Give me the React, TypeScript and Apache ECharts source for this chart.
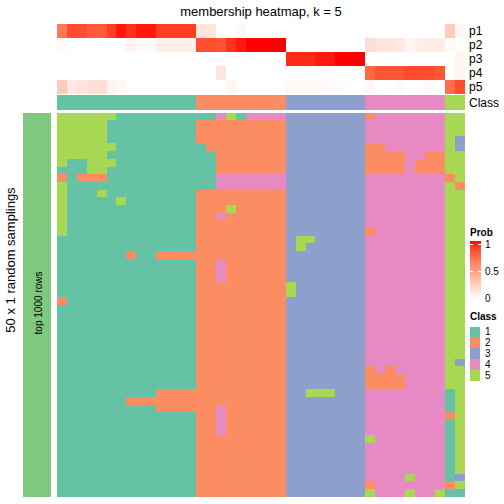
import React, { useEffect, useRef } from "react";
import * as echarts from "echarts";

const TITLE = "membership heatmap, k = 5";
const ROW_TITLE = "50 x 1 random samplings";
const LEFT_ANNO_LABEL = "top 1000 rows";
const PROB_ROWS = ["p1", "p2", "p3", "p4", "p5"];
const CLASS_ROW = ["Class"];

const P1 = [0.68, 0.85, 0.84, 0.8, 0.8, 0.9, 0.96, 0.92, 0.96, 0.96, 0.9, 0.9, 0.9, 0.9,
  0.14, 0.13, 0, 0, 0.03, 0, 0, 0, 0,
  0, 0, 0, 0, 0, 0, 0, 0,
  0, 0, 0, 0, 0, 0, 0, 0,
  0.27, 0.04];
const P2 = [0.03, 0, 0, 0, 0, 0, 0, 0.06, 0.03, 0.03, 0.08, 0.08, 0.08, 0.08,
  0.84, 0.85, 0.82, 0.92, 0.96, 1, 1, 1, 1,
  0, 0, 0, 0, 0, 0, 0, 0,
  0.18, 0.14, 0.14, 0.12, 0.04, 0.09, 0.1, 0.1,
  0.03, 0];
const P3 = [0, 0, 0, 0, 0, 0, 0, 0, 0, 0, 0, 0, 0, 0,
  0, 0, 0, 0, 0, 0, 0, 0, 0,
  0.93, 0.93, 0.93, 0.96, 0.96, 1, 1, 1,
  0, 0, 0, 0, 0, 0, 0, 0,
  0, 0.06];
const P4 = [0, 0, 0, 0, 0, 0, 0, 0, 0, 0, 0, 0, 0, 0,
  0, 0, 0.13, 0, 0, 0, 0, 0, 0,
  0, 0, 0, 0, 0, 0, 0, 0,
  0.74, 0.82, 0.82, 0.82, 0.86, 0.86, 0.84, 0.82,
  0, 0.04];
const P5 = [0.28, 0.12, 0.14, 0.17, 0.17, 0.06, 0.03, 0, 0, 0, 0, 0, 0, 0,
  0, 0, 0, 0.04, 0, 0, 0, 0, 0,
  0.03, 0.03, 0.03, 0.03, 0.02, 0.02, 0, 0,
  0.04, 0, 0, 0.03, 0, 0, 0.03, 0,
  0.72, 0.85];

const SAMPLE_CLASS = [1, 1, 1, 1, 1, 1, 1, 1, 1, 1, 1, 1, 1, 1,
  2, 2, 2, 2, 2, 2, 2, 2, 2,
  3, 3, 3, 3, 3, 3, 3, 3,
  4, 4, 4, 4, 4, 4, 4, 4,
  5, 5];

// each string: one random sampling, class per sample (| only separates groups)
const SAMPLING_ROWS = [
  "55555511111111|114514444|33333333|24444444|55",
  "55555111111111|222222222|33333333|44444444|55",
  "55555111111111|222222222|33333333|44444444|55",
  "55555111111111|222222222|33333333|44444444|53",
  "55555511111111|122222222|33333333|22444444|53",
  "55555111111111|112222222|33333333|22224422|55",
  "51155511111111|112222222|33333333|22224222|55",
  "11155111111111|112222222|33333333|22224222|55",
  "21222111111111|114444444|33333333|44444444|25",
  "51111111111111|114444444|33333333|44444444|52",
  "51115111111111|222222222|33333333|44444444|55",
  "51111151111111|222222222|33333333|44444444|55",
  "51111111111111|222522222|33333333|44444444|55",
  "51111111111111|224222222|33333333|44444444|55",
  "51111111111111|222222222|33333333|44444444|55",
  "51111111111111|222222222|33333333|24444444|55",
  "11111111111111|222222222|35533333|44444444|55",
  "11111111111111|222222222|35333333|44444444|55",
  "11111112112222|222222222|33333333|44444444|55",
  "11111111111111|224222222|33333333|44444444|55",
  "11111111111111|224222222|33333333|44444444|55",
  "11111111111111|224222222|33333333|44444444|55",
  "11111111111111|222222222|53333333|44444444|55",
  "11111111111111|222222222|53333333|44444444|55",
  "21111111111111|222222222|33333333|44444444|55",
  "11111111111111|222222222|33333333|44444444|55",
  "11111111111111|222222222|33333333|44444444|55",
  "11111111111111|222222222|33333333|44444444|55",
  "11111111111111|222222222|33333333|44444444|55",
  "11111111111111|222222222|33333333|44444444|55",
  "11111111111111|222222222|33333333|44444444|55",
  "11111111111111|222222222|33333333|44444444|55",
  "11111111111111|222222222|33333333|44444444|53",
  "11111111111111|222222222|33333333|24244444|55",
  "11111111111111|222222222|33333333|22224444|55",
  "11111111111111|222222222|33333333|22224444|55",
  "11111111112222|222222222|33555333|44444444|15",
  "11111112222222|222222222|33333333|44444444|15",
  "11111111112222|224222222|33333333|44444444|15",
  "11111111111111|224222222|33333333|44444444|25",
  "11111111111111|224222222|33333333|44444444|15",
  "11111111111111|224222222|33333333|44444444|15",
  "11111111111111|222222222|33333333|54444444|15",
  "11111111111111|222222222|33333333|44444444|15",
  "11111111111111|222222222|33333333|44444444|15",
  "11111111111111|222222222|33333333|44444444|15",
  "11111111111111|222222222|33333333|44444444|15",
  "11111111111111|222222222|33333333|44445444|13",
  "11111111111111|222222222|33333333|24444444|25",
  "11111111111111|222222222|33333333|54445445|11",
];

const CLASS_LABELS = ["1", "2", "3", "4", "5"];
const CLASS_COLORS = ["#66C2A5", "#FC8D62", "#8DA0CB", "#E78AC3", "#A6D854"];
const LEFT_ANNO_COLOR = "#7FC97F";
const PROB_TICKS = [1, 0.5, 0];

const FONT = "'Liberation Sans', Arial, Helvetica, sans-serif";

// ---- LAB interpolation white -> red (like colorRamp2) ----
function toLin(c: number) {
  c /= 255;
  return c <= 0.04045 ? c / 12.92 : Math.pow((c + 0.055) / 1.055, 2.4);
}
function fromLin(c: number) {
  const v = c <= 0.0031308 ? 12.92 * c : 1.055 * Math.pow(c, 1 / 2.4) - 0.055;
  return Math.max(0, Math.min(255, Math.round(v * 255)));
}
function rgbToLab(r: number, g: number, b: number) {
  const R = toLin(r), G = toLin(g), B = toLin(b);
  const X = (0.4124 * R + 0.3576 * G + 0.1805 * B) / 0.95047;
  const Y = 0.2126 * R + 0.7152 * G + 0.0722 * B;
  const Z = (0.0193 * R + 0.1192 * G + 0.9505 * B) / 1.08883;
  const f = (t: number) => (t > 0.008856 ? Math.cbrt(t) : 7.787 * t + 16 / 116);
  const fx = f(X), fy = f(Y), fz = f(Z);
  return [116 * fy - 16, 500 * (fx - fy), 200 * (fy - fz)];
}
function labToRgb(L: number, a: number, b: number) {
  const fy = (L + 16) / 116;
  const fx = fy + a / 500;
  const fz = fy - b / 200;
  const inv = (t: number) => (t * t * t > 0.008856 ? t * t * t : (t - 16 / 116) / 7.787);
  const X = inv(fx) * 0.95047, Y = inv(fy), Z = inv(fz) * 1.08883;
  const R = 3.2406 * X - 1.5372 * Y - 0.4986 * Z;
  const G = -0.9689 * X + 1.8758 * Y + 0.0415 * Z;
  const B = 0.0557 * X - 0.204 * Y + 1.057 * Z;
  const h = (v: number) => fromLin(Math.max(0, v)).toString(16).padStart(2, "0");
  return "#" + h(R) + h(G) + h(B);
}
const LAB_LOW = rgbToLab(255, 255, 255);
const LAB_HIGH = rgbToLab(255, 0, 0);
function probColor(p: number) {
  return labToRgb(
    LAB_LOW[0] + (LAB_HIGH[0] - LAB_LOW[0]) * p,
    LAB_LOW[1] + (LAB_HIGH[1] - LAB_LOW[1]) * p,
    LAB_LOW[2] + (LAB_HIGH[2] - LAB_LOW[2]) * p
  );
}
const STOP_POS = [0, 0.1, 0.2, 0.3, 0.4, 0.5, 0.6, 0.7, 0.8, 0.9, 1];

export default function App() {
  const ref = useRef<HTMLDivElement>(null);

  useEffect(() => {
    if (!ref.current) return;
    const chart = echarts.init(ref.current, undefined, { renderer: "svg" });

    const nCols = SAMPLE_CLASS.length;
    const colCats = SAMPLE_CLASS.map((_, i) => String(i));
    const probSets = [P1, P2, P3, P4, P5];
    const probData: number[][] = [];
    probSets.forEach((arr, r) => arr.forEach((v, c) => probData.push([c, r, v])));
    const classData = SAMPLE_CLASS.map((v, c) => [c, 0, v]);
    const rows = SAMPLING_ROWS.map((s) => s.replace(/\|/g, ""));
    const mainData: number[][] = [];
    rows.forEach((s, r) => {
      for (let c = 0; c < nCols; c++) mainData.push([c, r, Number(s[c])]);
    });
    const rowCats = rows.map((_, i) => String(i));

    const hiddenX = (gridIndex: number, data: string[]) => ({
      type: "category", gridIndex, data,
      axisLine: { show: false }, axisTick: { show: false }, axisLabel: { show: false },
      splitLine: { show: false },
    });

    const stops = STOP_POS.map((p) => probColor(p));

    const gx = 57, gw = 408;
    const legendX = 470;

    const txt = (x: number, y: number, text: string, size: number, extra: any = {}) => ({
      type: "text", x, y, z: 100, zlevel: 0,
      ...(extra.rotation !== undefined ? { rotation: extra.rotation } : {}),
      style: {
        text, fontSize: size, fontFamily: FONT, fill: "#000",
        fontWeight: extra.bold ? "bold" : "normal",
        textAlign: extra.align || "left", textVerticalAlign: "middle",
      },
    });

    const graphic: any[] = [
      txt(261, 11, TITLE, 13, { align: "center" }),
      txt(10, 260, ROW_TITLE, 13, { align: "center", rotation: Math.PI / 2 }),
      txt(38, 303, LEFT_ANNO_LABEL, 10, { align: "center", rotation: Math.PI / 2 }),
      txt(legendX, 232, "Prob", 10, { bold: true }),
      {
        type: "rect", z: 100, shape: { x: legendX, y: 241, width: 11, height: 58 },
        style: {
          fill: {
            type: "linear", x: 0, y: 0, x2: 0, y2: 1,
            colorStops: STOP_POS.map((p) => ({ offset: p, color: probColor(1 - p) })),
          },
        },
      },
    ];
    const tickY = (v: number) => 244.5 + (1 - v) * 54;
    PROB_TICKS.forEach((v) => {
      const y = tickY(v);
      graphic.push(txt(legendX + 15, y, String(v), 10));
      graphic.push({ type: "line", z: 101, shape: { x1: legendX, y1: y, x2: legendX + 3, y2: y }, style: { stroke: "#fff", lineWidth: 1 } });
      graphic.push({ type: "line", z: 101, shape: { x1: legendX + 8, y1: y, x2: legendX + 11, y2: y }, style: { stroke: "#fff", lineWidth: 1 } });
    });
    graphic.push(txt(legendX, 316, "Class", 10, { bold: true }));
    const boxH = 10.8;
    CLASS_LABELS.forEach((lab, i) => {
      const y = 326.5 + i * boxH;
      graphic.push({ type: "rect", z: 100, shape: { x: legendX, y, width: 10, height: boxH }, style: { fill: CLASS_COLORS[i] } });
      graphic.push(txt(legendX + 15, y + boxH / 2, lab, 10));
    });

    const heat = (xi: number, data: number[][]) => ({
      type: "heatmap", xAxisIndex: xi, yAxisIndex: xi, data,
      itemStyle: { borderWidth: 0 },
      emphasis: { disabled: true },
      silent: true,
      progressive: 0,
      z: 2,
    });

    const rightLabel = {
      show: true, margin: 4, fontSize: 12, color: "#000", fontFamily: FONT, interval: 0,
    };

    chart.setOption({
      animation: false,
      textStyle: { fontFamily: FONT },
      grid: [
        { left: gx, top: 24, width: gw, height: 70 },
        { left: gx, top: 95, width: gw, height: 15 },
        { left: gx, top: 113, width: gw, height: 384 },
        { left: 23, top: 113, width: 28, height: 384 },
      ],
      xAxis: [
        hiddenX(0, colCats),
        hiddenX(1, colCats),
        hiddenX(2, colCats),
        hiddenX(3, ["a"]),
      ],
      yAxis: [
        {
          type: "category", gridIndex: 0, data: PROB_ROWS, inverse: true, position: "right",
          axisLine: { show: false }, axisTick: { show: false }, axisLabel: rightLabel,
        },
        {
          type: "category", gridIndex: 1, data: CLASS_ROW, position: "right",
          axisLine: { show: false }, axisTick: { show: false }, axisLabel: rightLabel,
        },
        { ...hiddenX(2, rowCats), inverse: true },
        hiddenX(3, ["a"]),
      ],
      visualMap: [
        {
          type: "continuous", show: false, seriesIndex: 0, dimension: 2, min: 0, max: 1,
          inRange: { color: stops },
        },
        {
          type: "piecewise", show: false, seriesIndex: [1, 2, 3], dimension: 2,
          pieces: [
            ...CLASS_COLORS.map((c, i) => ({ value: i + 1, color: c })),
            { value: 6, color: LEFT_ANNO_COLOR },
          ],
        },
      ],
      series: [
        heat(0, probData),
        heat(1, classData),
        heat(2, mainData),
        heat(3, [[0, 0, 6]]),
      ],
      graphic,
    });

    return () => chart.dispose();
  }, []);

  return (
    <>
      <style>{"#chart-root svg path { shape-rendering: crispEdges; }"}</style>
      <div
        id="chart-root"
        ref={ref}
        style={{ position: "fixed", left: 0, top: 0, width: 504, height: 504, background: "#fff" }}
      />
    </>
  );
}
